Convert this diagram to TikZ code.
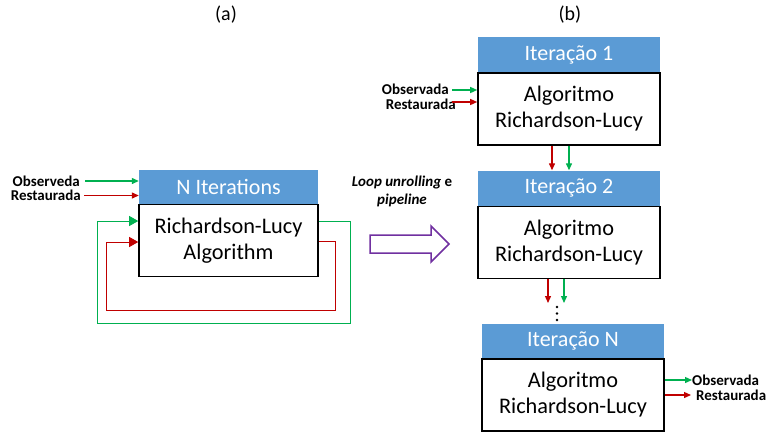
\documentclass[tikz,border=0pt]{standalone}
\usepackage{fontspec}
\setmainfont{Carlito}
\usetikzlibrary{arrows.meta}
\definecolor{hdrblue}{HTML}{5B9BD5}
\definecolor{sgreen}{HTML}{00B050}
\definecolor{sred}{HTML}{C00000}
\definecolor{spurple}{HTML}{7030A0}
\tikzset{
  hdr/.style={fill=hdrblue, text=white, minimum width=#1, minimum height=34,
    inner sep=0pt, font=\fontsize{22}{26}\selectfont},
  algbox/.style={draw=black, line width=1.6pt, fill=white, minimum width=#1,
    minimum height=72, inner sep=0pt, align=center,
    font=\fontsize{22.3}{26}\selectfont},
  siglab/.style={inner sep=0pt, font=\fontsize{15}{16}\selectfont\bfseries},
  gin/.style={draw=sgreen, line width=1.3pt, -{Triangle[length=7pt,width=6pt]}},
  rin/.style={draw=sred, line width=1.3pt, -{Triangle[length=7pt,width=6pt]}},
  gloop/.style={draw=sgreen, line width=0.9pt},
  rloop/.style={draw=sred, line width=0.9pt},
  gtip/.style={draw=sgreen, line width=0.9pt, -{Triangle[length=9pt,width=10pt]}},
  rtip/.style={draw=sred, line width=0.9pt, -{Triangle[length=9pt,width=10pt]}},
  paneltag/.style={font=\fontsize{20}{24}\selectfont, inner sep=0pt}
}
\begin{document}
\begin{tikzpicture}[x=1pt, y=-1pt]
\useasboundingbox (0,0) rectangle (766,432);

% panel tags
\node[paneltag] (tagA) at (226,15) {(a)};
\node[paneltag] (tagB) at (570,15) {(b)};

% ---------- (a) iterative loop ----------
\node[hdr=179] (hA) at (228.5,186.5) {N Iterations};
\node[algbox=179, anchor=north] (bA) at (hA.south) {Richardson-Lucy\\Algorithm};

\node[siglab, anchor=east] (obsA) at (80,181) {Observeda};
\node[siglab, anchor=east] (resA) at (81,195.5) {Restaurada};
\draw[gin] ([xshift=5pt]obsA.east) -- (obsA.east -| hA.west);
\draw[rin] ([xshift=3pt]resA.east) -- (resA.east -| hA.west);

% feedback paths
\coordinate (gOut) at (bA.east |- 0,221);
\coordinate (gIn)  at (bA.west |- 0,221);
\coordinate (rOut) at (bA.east |- 0,241);
\coordinate (rIn)  at (bA.west |- 0,242);
\draw[gloop] (gOut) -- (350,221) -- (350,323) -- (97,323) -- (97,221) -- ([xshift=-9pt]gIn);
\draw[gtip] ([xshift=-10pt]gIn) -- (gIn);
\draw[rloop] (rOut) -- (335,241) -- (335,310) -- (106,310) -- (106,242) -- ([xshift=-9pt]rIn);
\draw[rtip] ([xshift=-10pt]rIn) -- (rIn);

% ---------- transformation ----------
\node[inner sep=0pt, align=center, font=\fontsize{15}{18}\selectfont\bfseries] (unroll) at (402,191.5)
  {\textit{Loop unrolling} e\\\textit{pipeline}};
\draw[spurple, line width=1.5pt, fill=white, line join=miter]
  (370,235) -- (431,235) -- (431,226) -- (449,244) -- (431,262) -- (431,253) -- (370,253) -- cycle;

% ---------- (b) unrolled pipeline ----------
\node[hdr=182, minimum height=35] (h1) at (569,54.5) {Iteração 1};
\node[algbox=182, anchor=north] (b1) at (h1.south) {Algoritmo\\Richardson-Lucy};

\node[hdr=182, minimum height=35] (h2) at (569,188) {Iteração 2};
\node[algbox=182, anchor=north] (b2) at (h2.south) {Algoritmo\\Richardson-Lucy};

\node[hdr=182] (hN) at (573,341) {Iteração N};
\node[algbox=182, anchor=north] (bN) at (hN.south) {Algoritmo\\Richardson-Lucy};

% inputs of the first stage
\node[siglab, anchor=east] (obs1) at (449,89.5) {Observada};
\node[siglab, anchor=east] (res1) at (456,104) {Restaurada};
\draw[gin] (452,90) -- (b1.west |- 0,90);
\draw[rin] (452,102) -- (b1.west |- 0,102);

% stage 1 -> stage 2
\draw[rin] (b1.south -| 552,0) -- (h2.north -| 552,0);
\draw[gin] (b1.south -| 569,0) -- (h2.north -| 569,0);

% stage 2 -> ...
\coordinate (dRed) at (548,303);
\coordinate (dGrn) at (564,303);
\draw[rin] (b2.south -| dRed) -- (dRed);
\draw[gin] (b2.south -| dGrn) -- (dGrn);
\foreach \yy [count=\k] in {307,313.5,320}
  \fill (557,\yy) circle (1.3pt) coordinate (dot\k);

% outputs of the last stage
\node[siglab, anchor=west] (obsN) at (692,380.5) {Observada};
\node[siglab, anchor=west] (resN) at (696,395.5) {Restaurada};
\draw[gin] (bN.east |- 0,380) -- (obsN.west |- 0,380);
\draw[rin] (bN.east |- 0,395) -- (691,395);
\end{tikzpicture}
\end{document}
